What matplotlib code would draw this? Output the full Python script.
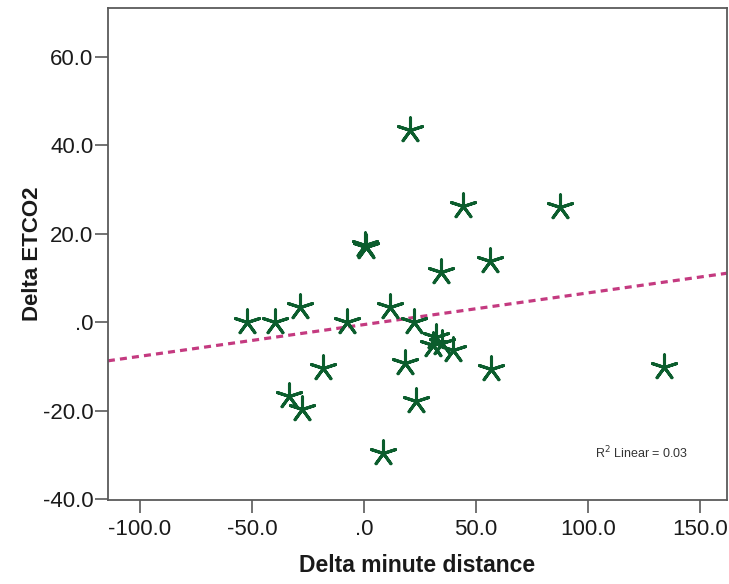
import numpy as np
import matplotlib
matplotlib.use("Agg")
import matplotlib.pyplot as plt
from matplotlib.ticker import FuncFormatter

plt.rcParams['font.family'] = ['Liberation Sans', 'DejaVu Sans']

# Data
delta_minute_distance = [20.5, 44.2, 87.5, 0.9, 0.7, 34.4, 56.3,
                         -52.2, -39.7, -28.6, -7.6, 11.6, 22.3,
                         32.1, 30.8, 34.8, 39.7,
                         18.3, -18.3, 56.7, 133.9,
                         -33.5, -27.7, 23.2, 8.5]
delta_etco2 = [43.5, 26.3, 26.1, 17.1, 17.4, 11.3, 13.8,
               0.0, 0.0, 3.4, 0.0, 3.4, 0.0,
               -3.4, -5.2, -4.8, -6.3,
               -9.3, -10.4, -10.6, -10.2,
               -16.7, -19.7, -17.8, -29.7]
r2_label = "R$^2$ Linear = 0.03"
x_ticks = [-100, -50, 0, 50, 100, 150]
y_ticks = [-40, -20, 0, 20, 40, 60]

x = np.array(delta_minute_distance)
y = np.array(delta_etco2)

fig = plt.figure(figsize=(7.29, 5.84), dpi=100)
ax = fig.add_axes([0.148, 0.144, 0.849, 0.842])

xlim = (-114.3, 162.1)
ylim = (-40.2, 71.0)

slope, intercept = np.polyfit(x, y, 1)
xx = np.array(xlim)
ax.plot(xx, slope * xx + intercept, color='#c43a80', lw=2.3,
        linestyle=(0, (2.2, 1.6)), zorder=2)

ax.scatter(x, y, marker=(5, 2, 0), s=330, color='#0b5d2d',
           linewidths=2.2, zorder=3)

ax.set_xlim(xlim)
ax.set_ylim(ylim)
ax.set_xticks(x_ticks)
ax.set_yticks(y_ticks)

def fmt(v, pos):
    s = f"{v:.1f}"
    if s in ("0.0", "-0.0"):
        return ".0"
    return s

ax.xaxis.set_major_formatter(FuncFormatter(fmt))
ax.yaxis.set_major_formatter(FuncFormatter(fmt))

for sp in ax.spines.values():
    sp.set_color('#5a5a5a')
    sp.set_linewidth(1.3)

ax.tick_params(axis='both', direction='out', length=9.5, width=1.2,
               color='#5a5a5a', labelsize=16, labelcolor='#1a1a1a')
ax.tick_params(axis='x', pad=4)
ax.tick_params(axis='y', pad=1)

ax.set_xlabel("Delta minute distance", fontsize=16.5, fontweight='bold',
              color='#1a1a1a', labelpad=10)
ax.set_ylabel("Delta ETCO2", fontsize=16, fontweight='bold',
              color='#1a1a1a', labelpad=0)

ax.text(0.787, 0.096, r2_label, transform=ax.transAxes, fontsize=9,
        color='#333333', va='center', ha='left')

fig.savefig("out.png", dpi=100)
